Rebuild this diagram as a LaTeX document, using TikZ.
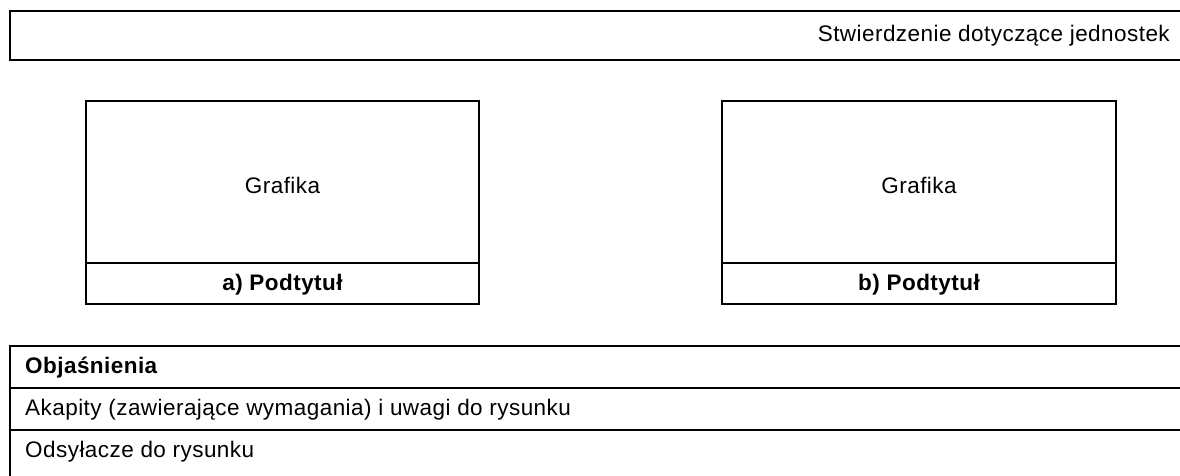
\documentclass[tikz,border=0pt]{standalone}
\usepackage{fontspec}
\setmainfont{Liberation Sans}[LetterSpace=2]
\tikzset{
  frame/.style={line width=2pt, draw=black},
  txt/.style={inner sep=0pt, font=\fontsize{22.5}{27}\selectfont},
  btxt/.style={txt, font=\fontsize{22.5}{27}\selectfont\bfseries},
}
\begin{document}
\begin{tikzpicture}[x=1pt,y=-1pt]
\useasboundingbox (0,0) rectangle (1180,475);
% header box (open to the right)
\draw[frame] (1185,11) -- (10,11) -- (10,60) -- (1185,60);
\node[txt, anchor=mid east] (stmt) at (1170,39) {Stwierdzenie dotyczące jednostek};
% figure a
\coordinate (a-nw) at (86,101);
\coordinate (a-se) at (479,304);
\draw[frame] (a-nw) rectangle (a-se);
\draw[frame] (86,263) -- (479,263);
\node[txt] (ga) at (282.5,185) {Grafika};
\node[btxt] (sa) at (282.5,285) {a) Podtytuł};
% figure b
\coordinate (b-nw) at (722,101);
\coordinate (b-se) at (1116,304);
\draw[frame] (b-nw) rectangle (b-se);
\draw[frame] (722,263) -- (1116,263);
\node[txt] (gb) at (919,185) {Grafika};
\node[btxt] (sb) at (919,285) {b) Podtytuł};
% legend
\draw[frame] (1185,346) -- (10,346) -- (10,480);
\draw[frame] (10,388) -- (1185,388);
\draw[frame] (10,430) -- (1185,430);
\node[btxt, anchor=mid west] (leg) at (25,371) {Objaśnienia};
\node[txt, anchor=mid west] (l1) at (25,413) {Akapity (zawierające wymagania) i uwagi do rysunku};
\node[txt, anchor=mid west] (l2) at (25,455) {Odsyłacze do rysunku};
\end{tikzpicture}
\end{document}
